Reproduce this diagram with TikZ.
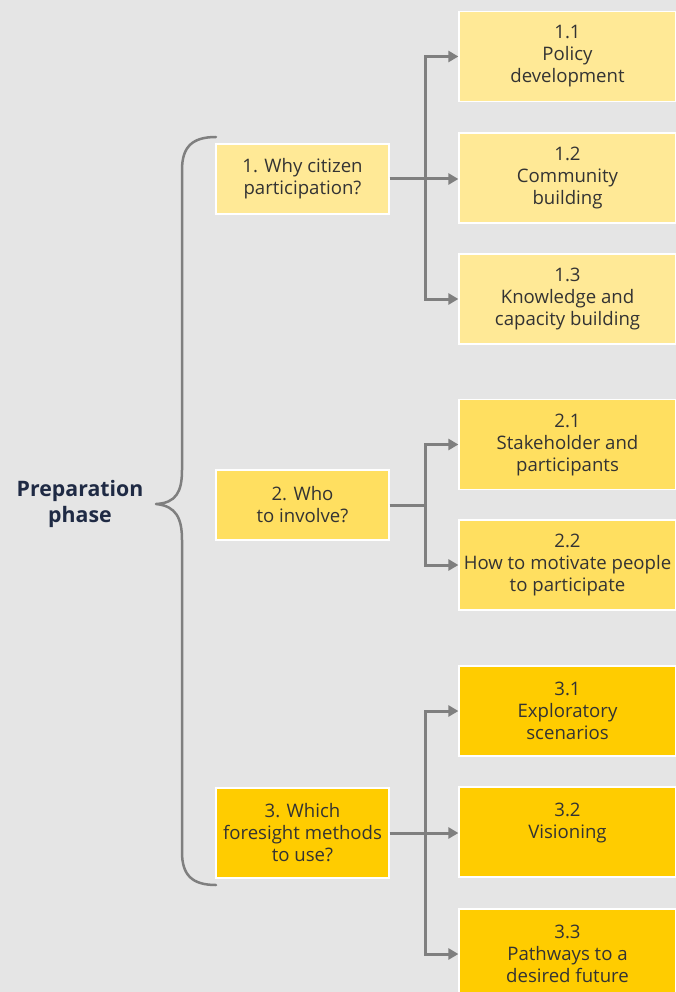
\documentclass[tikz,border=0pt]{standalone}
\usepackage{fontspec}
\setmainfont{Open Sans}
\usetikzlibrary{arrows.meta}
\definecolor{bg}{HTML}{E5E5E5}
\definecolor{ylight}{HTML}{FFE996}
\definecolor{ymid}{HTML}{FFDF60}
\definecolor{ydeep}{HTML}{FFCC00}
\definecolor{linegray}{HTML}{7F7F7F}
\definecolor{txt}{HTML}{333333}
\definecolor{navy}{HTML}{1F2A44}
\tikzset{
  box/.style={draw=white, line width=1.2pt, inner sep=0pt, align=center,
    text=txt, font=\fontsize{18.6}{22}\selectfont},
  parentbox/.style={box, minimum width=173pt},
  childbox/.style={box, minimum width=217pt, minimum height=90pt},
  link/.style={draw=linegray, line width=3pt},
  arrowlink/.style={link, -{Triangle[length=10pt,width=11pt]}},
  bracket/.style={draw=linegray, line width=2.5pt, line cap=round, line join=round}
}
\begin{document}
\begin{tikzpicture}[x=1pt,y=-1pt]
\clip (0,0) rectangle (676,992);
\fill[bg] (0,0) rectangle (676,992);

% phase label and its brace
\node[font=\fontsize{21.3}{26}\selectfont\bfseries, text=navy, align=center]
  (phase) at (80,504) {Preparation\\phase};
\draw[bracket] (216,137) .. controls (192,137) and (182,147) .. (182,170)
  -- (182,470) .. controls (182,492) and (176,503) .. (156,504)
  .. controls (176,506) and (182,518) .. (182,540)
  -- (182,852) .. controls (182,875) and (192,885) .. (216,885);

% questions
\node[parentbox, fill=ylight, minimum height=70pt] (p1) at (302.5,179)
  {1. Why citizen\\participation?};
\node[parentbox, fill=ymid, minimum height=70pt] (p2) at (302.5,505)
  {2. Who\\to involve?};
\node[parentbox, fill=ydeep, minimum height=90pt] (p3) at (302.5,833)
  {3. Which\\foresight methods\\to use?};

% answers
\node[childbox, fill=ylight] (c11) at (567.5,56.5) {1.1\\Policy\\development};
\node[childbox, fill=ylight] (c12) at (567.5,178) {1.2\\Community\\building};
\node[childbox, fill=ylight] (c13) at (567.5,299) {1.3\\Knowledge and\\capacity building};
\node[childbox, fill=ymid] (c21) at (567.5,444.5) {2.1\\Stakeholder and\\participants};
\node[childbox, fill=ymid] (c22) at (567.5,565) {2.2\\How to motivate people\\to participate};
\node[childbox, fill=ydeep] (c31) at (567.5,711) {3.1\\Exploratory\\scenarios};
\node[childbox, fill=ydeep] (c32) at (567.5,832) {3.2\\Visioning\\\phantom{x}};
\node[childbox, fill=ydeep] (c33) at (567.5,954) {3.3\\Pathways to a\\desired future};

% trunk junctions
\coordinate (j1) at (425,179);
\coordinate (j2) at (425,505);
\coordinate (j3) at (425,833);

% connectors
\draw[link] (p1.east) -- (j1);
\draw[arrowlink] (j1) |- (c11.west);
\draw[arrowlink] (j1) -- (j1 -| c12.west);
\draw[arrowlink] (j1) |- (c13.west);

\draw[link] (p2.east) -- (j2);
\draw[arrowlink] (j2) |- (c21.west);
\draw[arrowlink] (j2) |- (c22.west);

\draw[link] (p3.east) -- (j3);
\draw[arrowlink] (j3) |- (c31.west);
\draw[arrowlink] (j3) -- (j3 -| c32.west);
\draw[arrowlink] (j3) |- (c33.west);
\end{tikzpicture}
\end{document}
